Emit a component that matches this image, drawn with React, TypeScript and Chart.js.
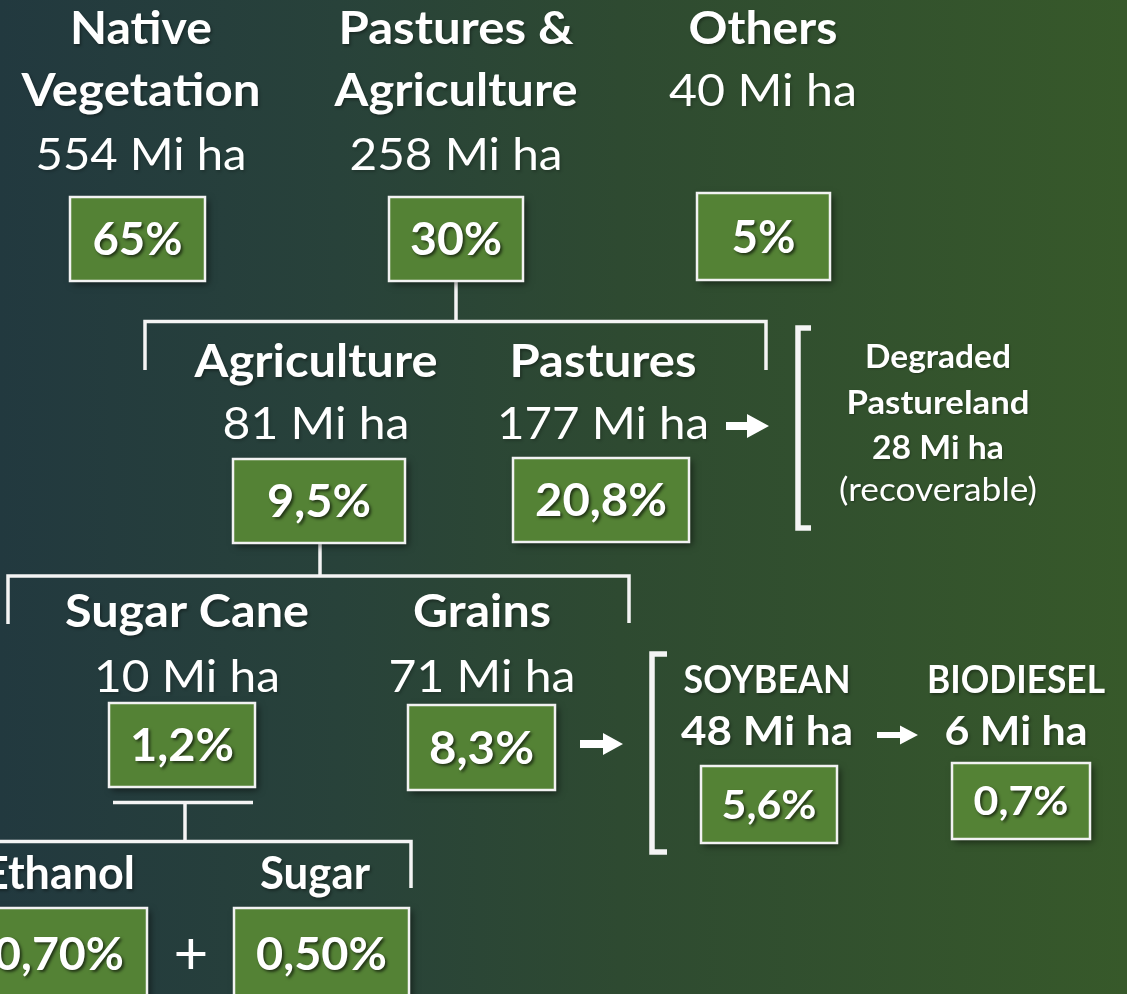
import React, { useEffect, useRef } from "react";
import { Chart, registerables } from "chart.js";

Chart.register(...registerables);

const W = 1127;
const H = 994;

// ---------------- DATA ----------------
const categories = [
  "Native\nVegetation",
  "Pastures &\nAgriculture",
  "Others",
  "Agriculture",
  "Pastures",
  "Sugar Cane",
  "Grains",
  "SOYBEAN",
  "BIODIESEL",
  "Ethanol",
  "Sugar",
];
const areasMiHa: (number | null)[] = [554, 258, 40, 81, 177, 10, 71, 48, 6, null, null];
const shareLabels = ["65%", "30%", "5%", "9,5%", "20,8%", "1,2%", "8,3%", "5,6%", "0,7%", "0,70%", "0,50%"];
const degradedPastureMiHa = 28;
const degradedLines = ["Degraded", "Pastureland", `${degradedPastureMiHa} Mi ha`, "(recoverable)"];

// ---------------- LAYOUT (positions / sizes / styles) ----------------
type NodeLayout = {
  cx: number;
  titleY: number[];
  titleW: number[];
  areaY?: number;
  areaW?: number;
  box: number[];
  labelW: number;
  labelY?: number;
  titleSize?: number;
  areaSize?: number;
  areaBold?: boolean;
  labelSize?: number;
};
const nodeLayout: NodeLayout[] = [
  { cx: 141, titleY: [44, 106], titleW: [142, 239], areaY: 170, areaW: 211, box: [70, 197, 205, 281], labelW: 90 },
  { cx: 456, titleY: [44, 106], titleW: [235, 243], areaY: 170, areaW: 213, box: [389, 197, 523, 281], labelW: 92 },
  { cx: 763, titleY: [44], titleW: [149], areaY: 106, areaW: 188, box: [697, 193, 830, 280], labelW: 64 },
  { cx: 316, titleY: [377], titleW: [243], areaY: 439, areaW: 187, box: [233, 459, 405, 543], labelW: 104 },
  { cx: 603, titleY: [377], titleW: [187], areaY: 439, areaW: 212, box: [513, 458, 689, 542], labelW: 132 },
  { cx: 187, titleY: [627], titleW: [244], areaY: 692, areaW: 186, box: [109, 703, 255, 787], labelW: 104 },
  { cx: 482, titleY: [627], titleW: [138], areaY: 692, areaW: 187, box: [408, 705, 555, 790], labelW: 105 },
  { cx: 767, titleY: [693], titleW: [167], areaY: 745, areaW: 172, box: [701, 766, 837, 843], labelW: 95, titleSize: 38, areaSize: 41, areaBold: true, labelSize: 40 },
  { cx: 1016, titleY: [693], titleW: [178], areaY: 745, areaW: 143, box: [952, 763, 1090, 839], labelW: 95, titleSize: 38, areaSize: 41, areaBold: true, labelSize: 40 },
  { cx: 59, titleY: [889], titleW: [152], box: [-29, 908, 147, 1012], labelW: 130, labelY: 970 },
  { cx: 315, titleY: [889], titleW: [110], box: [234, 908, 409, 1012], labelW: 131, labelY: 970 },
];

const degradedLayout = { cx: 938, ys: [368, 414, 459, 501], ws: [146, 183, 132, 198], bold: [true, true, true, false], size: 32 };

const connectors: number[][][] = [
  [[456, 281], [456, 321.5]],
  [[145, 370], [145, 321.5], [766, 321.5], [766, 370]],
  [[320, 543], [320, 576]],
  [[8, 624], [8, 576], [629, 576], [629, 623]],
  [[113, 802.5], [253, 802.5]],
  [[185, 802], [185, 841.5]],
  [[-5, 841.5], [411, 841.5], [411, 888]],
];

const brackets = [
  { x: 798, y0: 328, y1: 528, tab: 13 },
  { x: 652, y0: 654, y1: 852, tab: 15 },
];

const arrows = [
  { x0: 726, x1: 769, y: 426, shaft: 8, head: 22, headH: 24 },
  { x0: 580, x1: 623, y: 744, shaft: 8, head: 20, headH: 22 },
  { x0: 877, x1: 918, y: 735, shaft: 6, head: 18, headH: 19 },
];

const plusSign = { text: "+", x: 191, y: 955, size: 60 };

const FONT = "Lato, 'Open Sans', 'DejaVu Sans', sans-serif";
const CAP = 0.7165;
const BOX_FILL = "#548235";
const LINE_COLOR = "#f4f4f4";
const REGULAR_WEIGHT = "normal";

function fitText(ctx: CanvasRenderingContext2D, text: string, x: number, y: number, targetW: number | undefined, font: string) {
  ctx.font = font;
  const m = ctx.measureText(text).width;
  const s = targetW && m > 0 ? targetW / m : 1;
  ctx.save();
  ctx.translate(x, y);
  ctx.scale(s, 1);
  ctx.textAlign = "center";
  ctx.textBaseline = "alphabetic";
  ctx.fillText(text, 0, 0);
  ctx.restore();
}

const diagramPlugin = {
  id: "landDiagram",
  beforeDraw(chart: any) {
    const ctx: CanvasRenderingContext2D = chart.ctx;
    const g = ctx.createLinearGradient(0, 0, chart.width, 0);
    g.addColorStop(0, "#22393f");
    g.addColorStop(0.3, "#28423a");
    g.addColorStop(0.55, "#2e4a31");
    g.addColorStop(1, "#37592a");
    ctx.save();
    ctx.fillStyle = g;
    ctx.fillRect(0, 0, chart.width, chart.height);
    ctx.restore();
  },
  afterDatasetsDraw(chart: any) {
    const ctx: CanvasRenderingContext2D = chart.ctx;
    const xs = chart.scales.x;
    const ys = chart.scales.y;
    const px = (v: number) => xs.getPixelForValue(v);
    const py = (v: number) => ys.getPixelForValue(v);

    ctx.save();
    // connectors
    ctx.strokeStyle = LINE_COLOR;
    ctx.lineWidth = 3.5;
    ctx.lineCap = "butt";
    ctx.lineJoin = "miter";
    connectors.forEach((pts) => {
      ctx.beginPath();
      pts.forEach((p, i) => (i === 0 ? ctx.moveTo(px(p[0]), py(p[1])) : ctx.lineTo(px(p[0]), py(p[1]))));
      ctx.stroke();
    });
    // brackets
    ctx.lineWidth = 5.5;
    brackets.forEach((b) => {
      ctx.beginPath();
      ctx.moveTo(px(b.x + b.tab), py(b.y0));
      ctx.lineTo(px(b.x), py(b.y0));
      ctx.lineTo(px(b.x), py(b.y1));
      ctx.lineTo(px(b.x + b.tab), py(b.y1));
      ctx.stroke();
    });
    // arrows
    ctx.fillStyle = "#ffffff";
    arrows.forEach((a) => {
      const hx = a.x1 - a.head;
      ctx.beginPath();
      ctx.moveTo(px(a.x0), py(a.y - a.shaft / 2));
      ctx.lineTo(px(hx), py(a.y - a.shaft / 2));
      ctx.lineTo(px(hx), py(a.y - a.headH / 2));
      ctx.lineTo(px(a.x1), py(a.y));
      ctx.lineTo(px(hx), py(a.y + a.headH / 2));
      ctx.lineTo(px(hx), py(a.y + a.shaft / 2));
      ctx.lineTo(px(a.x0), py(a.y + a.shaft / 2));
      ctx.closePath();
      ctx.fill();
    });

    // boxes from dataset elements
    const meta = chart.getDatasetMeta(0);
    meta.data.forEach((el: any, i: number) => {
      const L = nodeLayout[i];
      const bw = px(L.box[2]) - px(L.box[0]);
      const bh = py(L.box[3]) - py(L.box[1]);
      const x0 = el.x - bw / 2;
      const y0 = el.y - bh / 2;
      ctx.save();
      ctx.shadowColor = "rgba(0,0,0,0.55)";
      ctx.shadowBlur = 7;
      ctx.shadowOffsetX = 3;
      ctx.shadowOffsetY = 3;
      ctx.fillStyle = BOX_FILL;
      ctx.fillRect(x0, y0, bw, bh);
      ctx.restore();
      ctx.save();
      ctx.strokeStyle = "#f2f2f2";
      ctx.lineWidth = 2.5;
      ctx.strokeRect(x0, y0, bw, bh);
      ctx.restore();

      const lSize = L.labelSize ?? 46;
      const ly = L.labelY !== undefined ? py(L.labelY) : el.y + (lSize * CAP) / 2;
      ctx.save();
      ctx.shadowColor = "rgba(0,0,0,0.6)";
      ctx.shadowBlur = 3;
      ctx.shadowOffsetX = 2;
      ctx.shadowOffsetY = 2;
      ctx.fillStyle = "#ffffff";
      fitText(ctx, shareLabels[i], el.x, ly, L.labelW, `bold ${lSize}px ${FONT}`);
      ctx.restore();

      // titles
      const lines = categories[i].split("\n");
      const tSize = L.titleSize ?? 45;
      ctx.save();
      ctx.shadowColor = "rgba(0,0,0,0.35)";
      ctx.shadowBlur = 3;
      ctx.shadowOffsetX = 1.5;
      ctx.shadowOffsetY = 1.5;
      ctx.fillStyle = "#ffffff";
      lines.forEach((t, k) => {
        fitText(ctx, t, px(L.cx), py(L.titleY[k]), L.titleW[k], `bold ${tSize}px ${FONT}`);
      });
      const area = areasMiHa[i];
      if (area !== null && L.areaY !== undefined) {
        const aSize = L.areaSize ?? 45;
        if (!L.areaBold) {
          ctx.shadowColor = "rgba(0,0,0,0.2)";
        }
        fitText(ctx, `${area} Mi ha`, px(L.cx), py(L.areaY), L.areaW, `${L.areaBold ? "bold" : REGULAR_WEIGHT} ${aSize}px ${FONT}`);
      }
      ctx.restore();
    });

    // degraded pastureland note
    ctx.save();
    ctx.fillStyle = "#ffffff";
    ctx.shadowColor = "rgba(0,0,0,0.3)";
    ctx.shadowBlur = 2;
    ctx.shadowOffsetX = 1;
    ctx.shadowOffsetY = 1;
    degradedLines.forEach((t, k) => {
      fitText(
        ctx,
        t,
        px(degradedLayout.cx),
        py(degradedLayout.ys[k]),
        degradedLayout.ws[k],
        `${degradedLayout.bold[k] ? "bold" : REGULAR_WEIGHT} ${degradedLayout.size}px ${FONT}`
      );
    });
    ctx.restore();

    // plus sign
    ctx.save();
    ctx.fillStyle = "#ffffff";
    ctx.font = `${plusSign.size}px ${FONT}`;
    ctx.textAlign = "center";
    ctx.textBaseline = "middle";
    ctx.fillText(plusSign.text, px(plusSign.x), py(plusSign.y));
    ctx.restore();

    ctx.restore();
  },
};

export default function App() {
  const canvasRef = useRef<HTMLCanvasElement | null>(null);

  useEffect(() => {
    document.body.style.margin = "0";
    const canvas = canvasRef.current;
    if (!canvas) return;
    const chart = new Chart(canvas, {
      type: "scatter",
      data: {
        datasets: [
          {
            label: "Land use share",
            data: nodeLayout.map((L) => ({ x: (L.box[0] + L.box[2]) / 2, y: (L.box[1] + L.box[3]) / 2 })),
            pointRadius: 0,
            pointHoverRadius: 0,
          },
        ],
      },
      options: {
        animation: false,
        responsive: false,
        devicePixelRatio: 1,
        layout: { padding: 0 },
        events: [],
        plugins: { legend: { display: false }, tooltip: { enabled: false } },
        scales: {
          x: { type: "linear", min: 0, max: W, display: false },
          y: { type: "linear", min: 0, max: H, reverse: true, display: false },
        },
      },
      plugins: [diagramPlugin],
    });
    let alive = true;
    if ((document as any).fonts?.ready) {
      (document as any).fonts.ready.then(() => {
        if (alive) chart.draw();
      });
    }
    return () => {
      alive = false;
      chart.destroy();
    };
  }, []);

  return (
    <div style={{ position: "absolute", left: 0, top: 0, width: W, height: H }}>
      <canvas ref={canvasRef} width={W} height={H} style={{ display: "block", width: W, height: H }} />
    </div>
  );
}
